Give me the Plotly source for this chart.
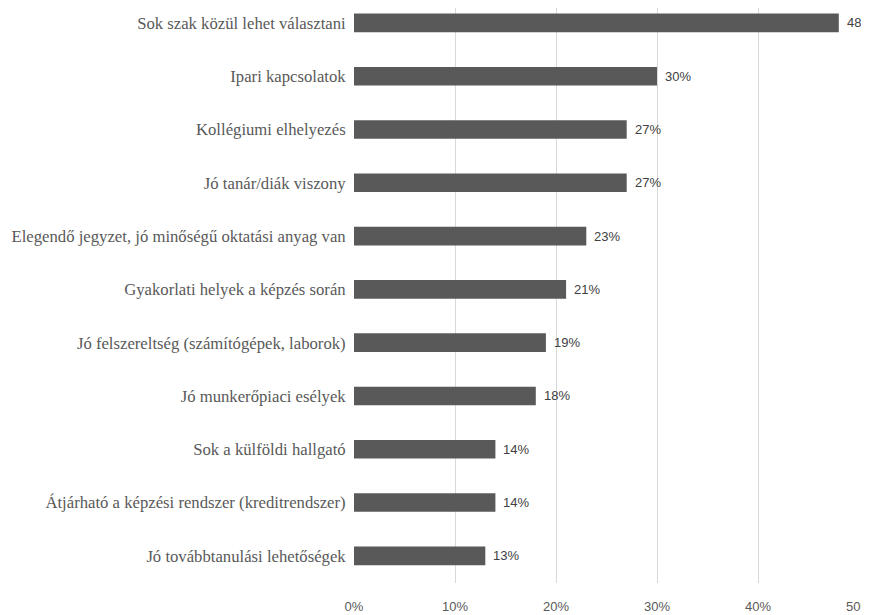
import plotly.graph_objects as go

categories = [
    "Sok szak közül lehet választani",
    "Ipari kapcsolatok",
    "Kollégiumi elhelyezés",
    "Jó tanár/diák viszony",
    "Elegendő jegyzet, jó minőségű oktatási anyag van",
    "Gyakorlati helyek a képzés során",
    "Jó felszereltség (számítógépek, laborok)",
    "Jó munkerőpiaci esélyek",
    "Sok a külföldi hallgató",
    "Átjárható a képzési rendszer (kreditrendszer)",
    "Jó továbbtanulási lehetőségek",
]
values = [48, 30, 27, 27, 23, 21, 19, 18, 14, 14, 13]
labels = [f"{v}%" for v in values]
tick_vals = [0, 10, 20, 30, 40, 50]
tick_text = ["0%", "10%", "20%", "30%", "40%", "50%"]

fig = go.Figure(go.Bar(
    y=categories, x=values, orientation="h",
    marker=dict(color="#595959", line=dict(width=0)),
    width=0.35,
    cliponaxis=False,
))

for c, v, t in zip(categories, values, labels):
    fig.add_annotation(x=v, y=c, text=t, showarrow=False,
                       xanchor="left", yanchor="middle", xshift=6,
                       font=dict(family="Liberation Sans", size=13, color="#404040"))

# page body has an 8px default margin; figure sized to fit the window
fig.update_layout(
    width=861, height=607,
    margin=dict(l=346, r=10, t=0, b=32, autoexpand=False),
    plot_bgcolor="white", paper_bgcolor="white",
    showlegend=False,
    xaxis=dict(range=[0, 50], tickvals=tick_vals, ticktext=tick_text,
               automargin=False, ticklabeloverflow="allow",
               showgrid=True, gridcolor="#d9d9d9", gridwidth=1,
               zeroline=False, showline=False,
               ticks="outside", ticklen=11, tickcolor="rgba(0,0,0,0)",
               tickfont=dict(family="Liberation Sans", size=13, color="#595959")),
    yaxis=dict(categoryorder="array", categoryarray=categories,
               range=[10.51, -0.28], automargin=False,
               showgrid=False, zeroline=False, showline=False,
               ticks="outside", ticklen=4, tickcolor="rgba(0,0,0,0)",
               tickfont=dict(family="Liberation Serif", size=16.7, color="#595959")),
)

fig.write_html("out.html")
